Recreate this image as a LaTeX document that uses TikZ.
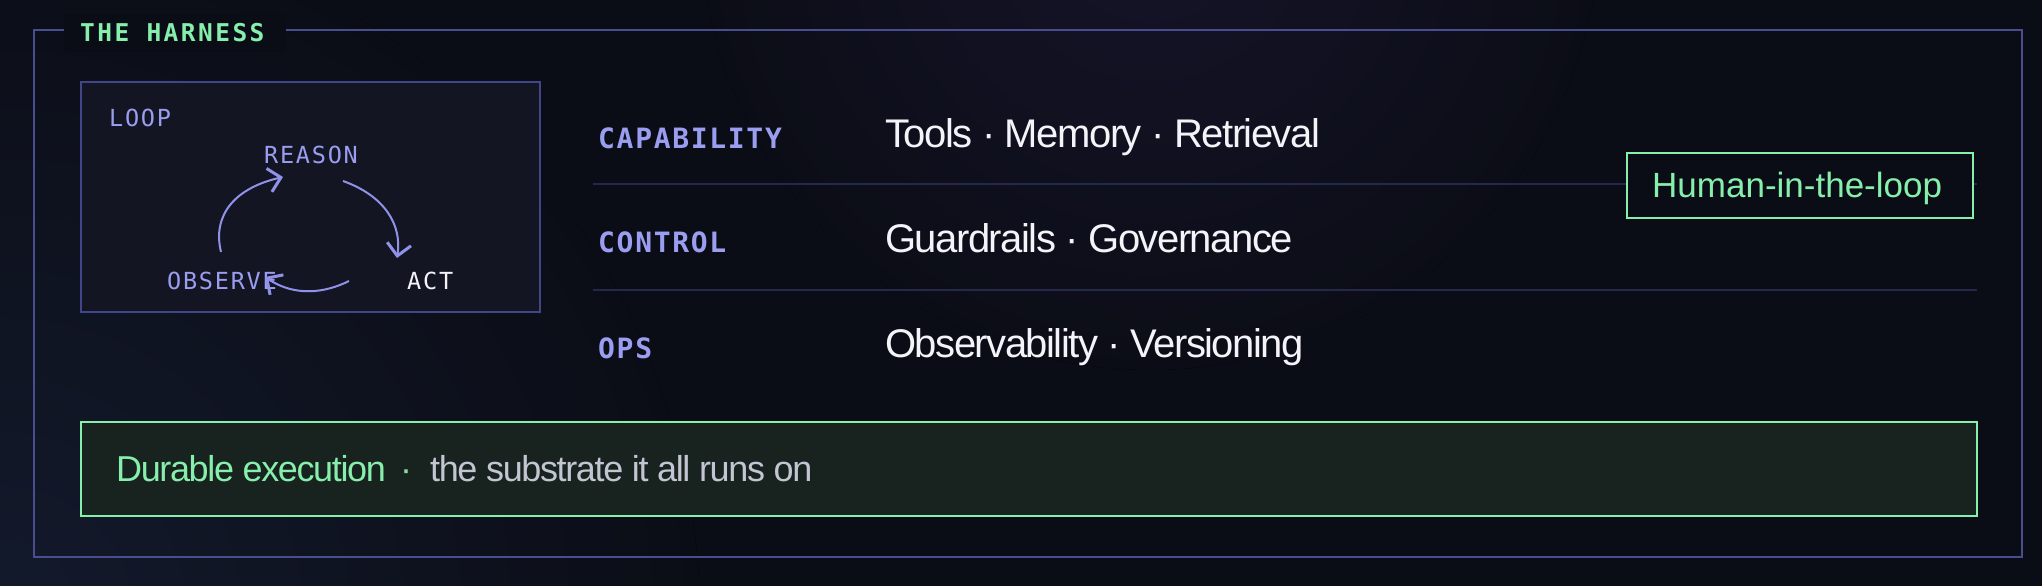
\documentclass[tikz,border=0pt]{standalone}
\usepackage{fontspec}
\setmainfont{Liberation Sans}
\newfontfamily\monofont[LetterSpace=7.5]{DejaVu Sans Mono}
\newfontfamily\rowfont[LetterSpace=6]{DejaVu Sans Mono}
\newfontfamily\titlefont[LetterSpace=10]{DejaVu Sans Mono}
\newfontfamily\tightfont[LetterSpace=-3.8]{Liberation Sans}
\usetikzlibrary{arrows.meta}
\definecolor{bg}{HTML}{0B0D16}
\definecolor{bgglow}{HTML}{131A2C}
\definecolor{frame}{HTML}{4A4D90}
\definecolor{loopfill}{HTML}{131523}
\definecolor{loopline}{HTML}{41458A}
\definecolor{sepline}{HTML}{24284A}
\definecolor{lav}{HTML}{9A9DF0}
\definecolor{arrowc}{HTML}{8F92E8}
\definecolor{grn}{HTML}{86EFAC}
\definecolor{durfill}{HTML}{18221F}
\definecolor{whitet}{HTML}{F3F3F8}
\definecolor{grayt}{HTML}{C3C5D2}
\definecolor{dotc}{HTML}{8FD8A8}
\definecolor{glowp}{HTML}{16142A}
\begin{document}
\begin{tikzpicture}[x=1pt,y=-1pt,
  txt/.style={inner sep=0pt, anchor=base west},
  monolabel/.style={txt, font=\monofont\fontsize{23.5}{28}\selectfont},
  rowlabel/.style={txt, text=lav, font=\rowfont\bfseries\fontsize{28}{34}\selectfont},
  rowtext/.style={txt, text=whitet, font=\tightfont\fontsize{40}{48}\selectfont},
  loopar/.style={draw=arrowc, line width=2pt,
    -{Straight Barb[length=12pt,width=24pt,line width=3pt]}},
  sep/.style={draw=sepline, line width=1.6pt}]
\useasboundingbox (0,0) rectangle (2042,586);
% background
\fill[bg] (0,0) rectangle (2042,586);
\begin{scope}
\clip (0,0) rectangle (2042,586);
\fill[inner color=bgglow, outer color=bg] (0,620) circle (700);
\fill[inner color=glowp, outer color=bg] (1150,-80) circle (450);
\end{scope}
% outer frame
\draw[frame, line width=2pt] (34,30) rectangle (2022,557);
\node[fill=bg, inner sep=0pt, minimum width=222pt, minimum height=39pt, anchor=north west] (titlebg) at (64,13) {};
\node[txt, text=grn, font=\titlefont\bfseries\fontsize{24.5}{28}\selectfont] (title) at (80,42) {THE HARNESS};
% loop box
\node[draw=loopline, fill=loopfill, line width=1.5pt, inner sep=0pt,
      minimum width=459pt, minimum height=230pt, anchor=north west] (loopbox) at (80,81) {};
\node[monolabel, text=lav] (loop) at (109,126) {LOOP};
\node[monolabel, text=lav] (reason) at (264,163) {REASON};
\node[monolabel, text=lav] (observe) at (167,289) {OBSERVE};
\node[monolabel, text=whitet] (act) at (407,289) {ACT};
\coordinate (r1) at (343,181);
\coordinate (a1) at (397,258);
\coordinate (a2) at (349,281);
\coordinate (o1) at (265,277);
\coordinate (o2) at (221,252);
\coordinate (r2) at (283,177);
\draw[loopar] (r1) .. controls (385,196) and (402,225) .. (a1);
\draw[loopar] (a2) .. controls (325,293) and (295,297) .. (o1);
\draw[loopar] (o2) .. controls (212,215) and (235,188) .. (r2);
% rows
\node[rowlabel] (cap) at (598,148) {CAPABILITY};
\node[rowtext] (captxt) at (885,147) {Tools · Memory · Retrieval};
\coordinate (s1a) at (593,184);
\coordinate (s1b) at (1977,184);
\draw[sep] (s1a) -- (s1b);
\node[rowlabel] (ctl) at (598,252) {CONTROL};
\node[rowtext] (ctltxt) at (885,252) {Guardrails · Governance};
\coordinate (s2a) at (593,290);
\coordinate (s2b) at (1977,290);
\draw[sep] (s2a) -- (s2b);
\node[rowlabel] (ops) at (598,358) {OPS};
\node[rowtext] (opstxt) at (885,357) {Observability · Versioning};
% human in the loop
\node[draw=grn, fill=bg, line width=2pt, inner sep=0pt,
      minimum width=346pt, minimum height=65pt, anchor=north west] (hitlbox) at (1626,152) {};
\node[txt, text=grn, font=\fontsize{35}{42}\selectfont] (hitl) at (1652,197) {Human-in-the-loop};
% durable execution
\node[draw=grn, fill=durfill, line width=2pt, inner sep=0pt,
      minimum width=1896pt, minimum height=94pt, anchor=north west] (durbox) at (80,421) {};
\node[txt, text=grn, font=\tightfont\fontsize{36}{42}\selectfont] (dur) at (116,481) {Durable execution};
\node[txt, anchor=base, text=dotc, font=\fontsize{36}{42}\selectfont] (dot) at (406,481) {·};
\node[txt, text=grayt, font=\tightfont\fontsize{36}{42}\selectfont] (sub) at (430,481) {the substrate it all runs on};
\end{tikzpicture}
\end{document}
